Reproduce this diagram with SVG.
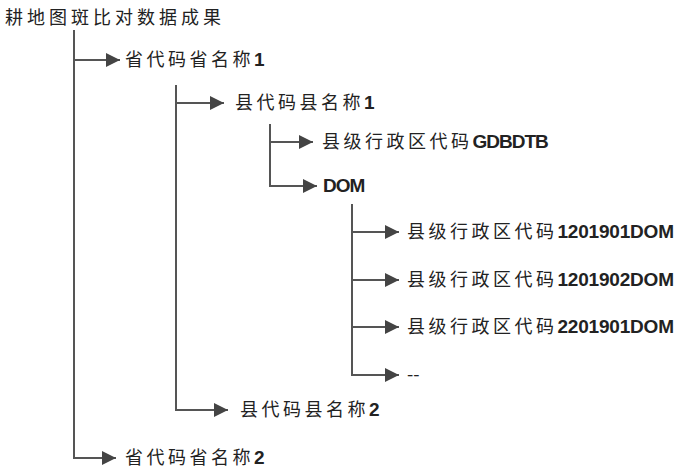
<svg xmlns="http://www.w3.org/2000/svg" width="680" height="472" viewBox="0 0 680 472">
<style>
.t{font-family:"Noto Sans CJK SC","Liberation Sans",sans-serif;font-size:18px;letter-spacing:3.5px;fill:#222}
.b{font-family:"Liberation Sans",sans-serif;font-weight:bold;font-size:19px;letter-spacing:-0.2px}
.ln{stroke:#555;stroke-width:2;fill:none}
</style>
<defs>
<marker id="ah" viewBox="0 0 10 10" refX="10" refY="5" markerWidth="16" markerHeight="14" markerUnits="userSpaceOnUse" orient="auto">
<path d="M0,0 L10,5 L0,10 z" fill="#444"/>
</marker>
</defs>
<rect width="680" height="472" fill="#fff"/>
<g id="connectors">
<path class="ln" d="M74,30 V458 H116" marker-end="url(#ah)"/>
<path class="ln" d="M74,60 H120" marker-end="url(#ah)"/>
<path class="ln" d="M176,85 V410 H228" marker-end="url(#ah)"/>
<path class="ln" d="M176,103 H224" marker-end="url(#ah)"/>
<path class="ln" d="M270,124 V186 H317" marker-end="url(#ah)"/>
<path class="ln" d="M270,142 H313" marker-end="url(#ah)"/>
<path class="ln" d="M352,204 V375 H399" marker-end="url(#ah)"/>
<path class="ln" d="M352,232 H399" marker-end="url(#ah)"/>
<path class="ln" d="M352,280 H399" marker-end="url(#ah)"/>
<path class="ln" d="M352,327 H399" marker-end="url(#ah)"/>
</g>
<g id="root"><text class="t" x="5" y="24" style="letter-spacing:4px">耕地图斑比对数据成果</text></g>
<g id="prov1"><text class="t" x="125" y="66">省代码省名称<tspan class="b">1</tspan></text></g>
<g id="county1"><text class="t" x="235" y="109">县代码县名称<tspan class="b">1</tspan></text></g>
<g id="gdbdtb"><text class="t" x="322" y="148">县级行政区代码<tspan class="b" style="letter-spacing:-1px">GDBDTB</tspan></text></g>
<g id="dom"><text class="t" x="323" y="192"><tspan class="b" style="letter-spacing:-1px">DOM</tspan></text></g>
<g id="dom1"><text class="t" x="407" y="238">县级行政区代码<tspan class="b">1201901DOM</tspan></text></g>
<g id="dom2"><text class="t" x="407" y="286">县级行政区代码<tspan class="b">1201902DOM</tspan></text></g>
<g id="dom3"><text class="t" x="407" y="333">县级行政区代码<tspan class="b">2201901DOM</tspan></text></g>
<g id="more"><text class="t" x="407" y="381" style="letter-spacing:0">--</text></g>
<g id="county2"><text class="t" x="240" y="416">县代码县名称<tspan class="b">2</tspan></text></g>
<g id="prov2"><text class="t" x="125" y="464">省代码省名称<tspan class="b">2</tspan></text></g>
</svg>
